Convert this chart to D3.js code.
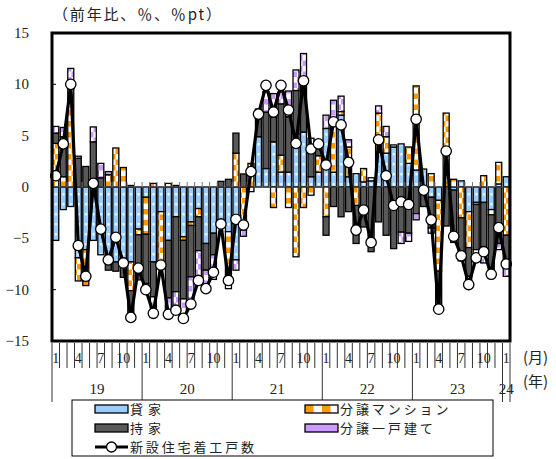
<!DOCTYPE html>
<html>
<head>
<meta charset="utf-8">
<script src="https://cdn.jsdelivr.net/npm/d3@7"></script>
<style>
  body { margin: 0; background: #fff; }
  svg { display: block; }
</style>
</head>
<body>
<svg id="chart" width="556" height="459"></svg>
<script>
// Monthly periods, Jan 2019 – Jan 2024
const months = d3.range(61).map(i => `${2019 + Math.floor(i / 12)}-${String(i % 12 + 1).padStart(2, "0")}`);

// Contributions by housing type (%pt), year-on-year
const rental = [
  -5.2, -2.2, -1.9, -6.9, -6.1, -5.2, -6.6, -7.1, -7.3, -7.3,
  -7.3, -4.1, -1.0, -7.3, -2.4, -5.2, -2.9, -4.85, -3.4, -2.1,
  -5.5, -4.5, -3.9, -4.35, -7.1, 0, 0, 4.9, 1.8, 4.4,
  1.45, 1.45, 5.2, 5.35, 1.0, 1.45, 5.7, 1.45, 7.0, 1.0,
  1.3, 0.5, 0.6, 3.4, 3.3, 3.9, 4.2, 2.3, 1.65, 1.75,
  -1.0, -1.3, 0, -0.3, 0.6, -2.4, -1.5, -1.5, -2.2, 0.3, 1.0
];
const condo = [
  4.25, 1.0, 9.6, -2.25, -3.5, 0, 0, 1.2, 3.8, 1.9,
  -2.8, -0.55, -3.6, 0.35, -5.4, 0.35, 0.15, -0.35, -0.35, -0.8,
  0, 0, 0, -4.7, 3.3, -4.2, 2.3, 0, 0, -2.0,
  1.65, -2.0, -6.8, -2.0, -0.8, 1.6, -2.9, 5.05, 0.35, 2.9,
  -1.8, 1.3, 0, 3.8, 1.6, 0, 0, 1.6, 8.2, 0,
  1.3, -6.9, 7.2, 0.75, -3.0, -3.5, -0.2, 1.1, -0.5, 2.1, -4.7
];
const owner = [
  1.0, 3.9, 0.5, 2.8, 2.0, 4.4, 0.9, -1.0, -0.9, -1.5,
  -2.4, -4.4, -4.8, -3.4, 0, -5.6, -7.3, -5.7, -5.0, -3.3,
  -2.6, -2.1, 0.55, 0.75, 1.95, 1.27, 0, 2.7, 5.5, 2.4,
  5.0, 5.4, 4.2, 4.85, 2.8, 0.7, -1.8, -1.9, -2.9, -2.4,
  -3.7, -3.9, -6.3, -3.4, -4.7, -6.0, -4.4, -4.5, -2.6, -1.9,
  -3.0, -3.5, -3.8, -4.5, -3.5, -2.8, -4.4, -5.0, -6.1, -5.5, -3.2
];
const detached = [
  0.65, 0.9, 1.45, 0.2, 0, 1.45, 1.4, 0.3, 0, 0,
  0.15, 0, -0.4, -1.4, 0, -1.3, -1.8, -1.9, -2.4, -2.8,
  -1.6, -2.4, 0, -0.85, -1.0, -0.6, -0.45, 0, 2.0, 2.3,
  1.15, 2.5, 2.0, 2.8, 0.95, 0.8, 1.3, 1.95, 1.5, 0.7,
  0, 0, 0.3, 0.7, 1.0, 0.2, -1.1, -0.8, -0.6, 0,
  -0.5, 0, 0, -0.6, -0.7, -0.8, -0.8, -0.9, 0, -0.6, -0.8
];
// Housing starts, total (% y/y)
const starts = [
  1.1, 4.2, 10.0, -5.7, -8.7, 0.35, -4.1, -7.1, -4.9, -7.4,
  -12.7, -7.9, -10.0, -12.3, -7.6, -12.4, -12.0, -12.8, -11.4, -9.1,
  -9.9, -8.3, -3.6, -9.1, -3.15, -3.7, 1.5, 7.1, 9.9, 7.3,
  9.9, 7.5, 4.25, 10.35, 3.7, 4.2, 2.15, 6.35, 6.05, 2.4,
  -4.2, -2.24, -5.4, 4.6, 1.1, -1.8, -1.43, -1.7, 6.6, -0.3,
  -3.2, -11.9, 3.5, -4.8, -6.7, -9.5, -6.9, -6.3, -8.5, -3.96, -7.5
];

const seriesNames = ["貸家", "分譲マンション", "持家", "分譲一戸建て"];
const lineName = "新設住宅着工戸数";
const yTicks = [-15, -10, -5, 0, 5, 10, 15];
const monthTickLabels = ["1", "4", "7", "10"];
const yearLabels = ["19", "20", "21", "22", "23", "24"];

const table = months.map((m, i) => ({
  month: m,
  "貸家": rental[i],
  "分譲マンション": condo[i],
  "持家": owner[i],
  "分譲一戸建て": detached[i]
}));

const svg = d3.select("#chart");
const plotL = 52, plotR = 510, plotT = 33, plotB = 341;
const serif = "'Liberation Serif', 'DejaVu Serif', serif";
const cjk = "'Noto Sans CJK JP', sans-serif";

const x = d3.scaleBand().domain(months).range([plotL, plotR]).paddingInner(0.2).paddingOuter(0.1);
const step = x.step();
const y = d3.scaleLinear().domain([-15, 15]).range([plotB, plotT]);

// ---- fill patterns ----
const defs = svg.append("defs");
const off = (plotL + step * 0.1) % step;

const pBlue = defs.append("pattern").attr("id", "pBlue").attr("patternUnits", "userSpaceOnUse")
  .attr("width", step).attr("height", 10);
pBlue.append("rect").attr("width", step).attr("height", 10).attr("fill", "#99ccff");
pBlue.append("rect").attr("x", off + 2.2).attr("y", 3).attr("width", 2).attr("height", 2.5).attr("fill", "#fff");

function checker(id, color, cell) {
  const p = defs.append("pattern").attr("id", id).attr("patternUnits", "userSpaceOnUse")
    .attr("width", cell * 2).attr("height", cell * 2);
  p.append("rect").attr("width", cell * 2).attr("height", cell * 2).attr("fill", "#fff");
  p.append("rect").attr("width", cell).attr("height", cell).attr("fill", color);
  p.append("rect").attr("x", cell).attr("y", cell).attr("width", cell).attr("height", cell).attr("fill", color);
}
checker("pOrange", "#ff9900", 5.5);
checker("pPurple", "#cc99ff", 5.5);

const pOrangeLeg = defs.append("pattern").attr("id", "pOrangeLeg").attr("patternUnits", "userSpaceOnUse")
  .attr("x", 305).attr("width", 17).attr("height", 10);
pOrangeLeg.append("rect").attr("width", 17).attr("height", 10).attr("fill", "#fff");
pOrangeLeg.append("rect").attr("width", 8.5).attr("height", 10).attr("fill", "#ff9900");

const fills = {
  "貸家": "url(#pBlue)",
  "分譲マンション": "url(#pOrange)",
  "持家": "#595959",
  "分譲一戸建て": "url(#pPurple)"
};

// ---- title ----
svg.append("text").attr("x", 53).attr("y", 20)
  .attr("font-family", cjk).attr("font-size", 15).attr("fill", "#222")
  .attr("textLength", 168).attr("lengthAdjust", "spacing")
  .text("（前年比、％、％pt）");

// ---- y axis labels and ticks ----
svg.append("g").selectAll("text").data(yTicks).join("text")
  .attr("x", 29).attr("y", d => y(d) + 5)
  .attr("text-anchor", "end")
  .attr("font-family", serif).attr("font-size", 15).attr("fill", "#222")
  .text(d => d < 0 ? "−" + Math.abs(d) : d);

svg.append("g").selectAll("line").data(yTicks.filter(d => d > -15 && d < 15)).join("line")
  .attr("x1", plotL).attr("x2", plotL + 4)
  .attr("y1", d => y(d)).attr("y2", d => y(d))
  .attr("stroke", "#000").attr("stroke-width", 1);

// ---- stacked bars ----
const stack = d3.stack().keys(seriesNames).offset(d3.stackOffsetDiverging);
const layers = stack(table);

const barG = svg.append("g");
layers.forEach(layer => {
  barG.append("g").selectAll("rect")
    .data(layer.filter(d => d[1] !== d[0]))
    .join("rect")
    .attr("x", d => x(d.data.month))
    .attr("width", x.bandwidth())
    .attr("y", d => y(Math.max(d[0], d[1])))
    .attr("height", d => Math.abs(y(d[0]) - y(d[1])))
    .attr("fill", fills[layer.key])
    .attr("stroke", "#000")
    .attr("stroke-width", 1.3);
});

// zero line with small ticks
const y0 = y(0);
svg.append("line").attr("x1", plotL).attr("x2", plotR).attr("y1", y0).attr("y2", y0)
  .attr("stroke", "#555").attr("stroke-width", 1);
svg.append("g").selectAll("line").data(d3.range(62)).join("line")
  .attr("x1", k => plotL + k * step).attr("x2", k => plotL + k * step)
  .attr("y1", y0 - 5).attr("y2", y0)
  .attr("stroke", "#777").attr("stroke-width", 1);

// ---- total line ----
const cx = i => x(months[i]) + x.bandwidth() / 2;
const line = d3.line().x((d, i) => cx(i)).y(d => y(d));
svg.append("path").datum(starts)
  .attr("d", line).attr("fill", "none")
  .attr("stroke", "#000").attr("stroke-width", 3.2).attr("stroke-linejoin", "miter");
svg.append("g").selectAll("circle").data(starts).join("circle")
  .attr("cx", (d, i) => cx(i)).attr("cy", d => y(d)).attr("r", 5.2)
  .attr("fill", "#fff").attr("stroke", "#000").attr("stroke-width", 1.3);

// ---- plot frame ----
svg.append("rect").attr("x", plotL).attr("y", plotT)
  .attr("width", plotR - plotL).attr("height", plotB - plotT)
  .attr("fill", "none").attr("stroke", "#000").attr("stroke-width", 3);

// ---- category axis below plot ----
const axisG = svg.append("g");
axisG.selectAll("line").data(d3.range(62)).join("line")
  .attr("x1", k => plotL + k * step).attr("x2", k => plotL + k * step)
  .attr("y1", plotB + 2)
  .attr("y2", k => (k % 12 === 0 || k === 61) ? 402 : 368)
  .attr("stroke", "#333").attr("stroke-width", 1);

const monthLabelIdx = d3.range(61).filter(i => i % 3 === 0);
axisG.selectAll("text.m").data(monthLabelIdx).join("text")
  .attr("class", "m")
  .attr("x", i => cx(i)).attr("y", 363)
  .attr("text-anchor", "middle")
  .attr("font-family", serif).attr("font-size", 14).attr("fill", "#222")
  .text(i => monthTickLabels[(i % 12) / 3]);

axisG.selectAll("text.yr").data(yearLabels).join("text")
  .attr("class", "yr")
  .attr("x", (d, j) => j < 5 ? plotL + (j * 12 + 6) * step : cx(60))
  .attr("y", 394)
  .attr("text-anchor", "middle")
  .attr("font-family", serif).attr("font-size", 15).attr("fill", "#222")
  .text(d => d);

svg.append("text").attr("x", 523).attr("y", 363)
  .attr("font-family", cjk).attr("font-size", 15).attr("fill", "#222").text("(月)");
svg.append("text").attr("x", 523).attr("y", 387)
  .attr("font-family", cjk).attr("font-size", 15).attr("fill", "#222").text("(年)");

// ---- legend ----
const lg = svg.append("g");
lg.append("rect").attr("x", 72).attr("y", 400).attr("width", 421).attr("height", 56)
  .attr("fill", "#fff").attr("stroke", "#000").attr("stroke-width", 1);

const legendItems = [
  { name: seriesNames[0], fill: "#99ccff", x: 95, cy: 409 },
  { name: seriesNames[1], fill: "url(#pOrangeLeg)", x: 305, cy: 409 },
  { name: seriesNames[2], fill: "#595959", x: 95, cy: 428 },
  { name: seriesNames[3], fill: "#cc99ff", x: 305, cy: 428 }
];
legendItems.forEach(it => {
  lg.append("rect").attr("x", it.x).attr("y", it.cy - 4).attr("width", 33).attr("height", 8)
    .attr("fill", it.fill).attr("stroke", "#000").attr("stroke-width", 1.3);
  lg.append("text").attr("x", it.x + 35).attr("y", it.cy + 5)
    .attr("font-family", cjk).attr("font-size", 13).attr("fill", "#222")
    .attr("textLength", it.name.length * 15.5).attr("lengthAdjust", "spacing")
    .text(it.name);
});
lg.append("line").attr("x1", 95).attr("x2", 128).attr("y1", 447).attr("y2", 447)
  .attr("stroke", "#000").attr("stroke-width", 3);
lg.append("circle").attr("cx", 111.5).attr("cy", 447).attr("r", 5)
  .attr("fill", "#fff").attr("stroke", "#000").attr("stroke-width", 1.3);
lg.append("text").attr("x", 130).attr("y", 452)
  .attr("font-family", cjk).attr("font-size", 13).attr("fill", "#222")
  .attr("textLength", lineName.length * 15.5).attr("lengthAdjust", "spacing")
  .text(lineName);
</script>
</body>
</html>
